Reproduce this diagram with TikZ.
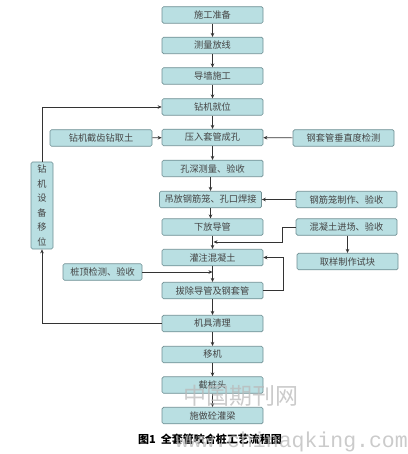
\documentclass[tikz,border=0pt]{standalone}
\usepackage{fontspec}
\newfontfamily\cjk{Noto Sans CJK SC}
\newfontfamily\wmono{Liberation Mono}
\usetikzlibrary{arrows.meta,calc}
\definecolor{boxfill}{HTML}{B9DFE2}
\definecolor{boxline}{HTML}{6F8F93}
\definecolor{txt}{HTML}{444444}
\definecolor{ln}{HTML}{333333}
\tikzset{
  box/.style={draw=boxline, fill=boxfill, line width=0.7pt, rounded corners=1.5pt,
    minimum width=101pt, minimum height=16.5pt, inner sep=0pt, text=txt,
    font=\cjk\fontsize{9.2}{10}\selectfont},
  arr/.style={draw=ln, line width=0.6pt, -{Stealth[length=4pt,width=3.6pt]}},
  wm/.style={text=gray!55, opacity=0.75, inner sep=0pt}
}
\begin{document}
\begin{tikzpicture}[x=1pt,y=-1pt]
\useasboundingbox (0,0) rectangle (407,454);
% main column
\node[box] (n1) at (212.5,15) {施工准备};
\node[box] (n2) at (212.5,45.5) {测量放线};
\node[box] (n3) at (212.5,76) {导墙施工};
\node[box] (n4) at (212.5,107) {钻机就位};
\node[box] (n5) at (212.5,137.5) {压入套管成孔};
\node[box] (n6) at (212.5,168.5) {孔深测量、验收};
\node[box, minimum width=102pt] (n7) at (210.5,199.5) {吊放钢筋笼、孔口焊接};
\node[box] (n8) at (212.5,227) {下放导管};
\node[box] (n9) at (212.5,257.5) {灌注混凝土};
\node[box] (n10) at (212.5,290.5) {拔除导管及钢套管};
\node[box] (n11) at (212.5,323.5) {机具清理};
\node[box] (n12) at (212.5,354.5) {移机};
\node[box] (n13) at (212.5,385) {截桩头};
\node[box] (n14) at (212.5,415.5) {施做砼灌梁};
% side boxes
\node[box, minimum width=102pt] (L1) at (101,138) {钻机截齿钻取土};
\node[box] (R1) at (343.5,138) {钢套管垂直度检测};
\node[box] (R2) at (346.5,199.5) {钢筋笼制作、验收};
\node[box] (R3) at (346.5,227) {混凝土进场、验收};
\node[box] (R4) at (347.5,261.5) {取样制作试块};
\node[box, minimum width=79pt] (P) at (102.5,272) {桩顶检测、验收};
\node[box, minimum width=22pt, minimum height=87pt, align=center,
      font=\cjk\fontsize{9.2}{14.6}\selectfont] (V) at (42,205.5) {钻\\机\\设\\备\\移\\位};
% main arrows
\draw[arr] (n1) -- (n2);
\draw[arr] (n2) -- (n3);
\draw[arr] (n3) -- (n4);
\draw[arr] (n4) -- (n5);
\draw[arr] (n5) -- (n6);
\draw[arr] (n6.south -| n7.north) -- (n7.north);
\draw[arr] (n7.south) -- (n7.south |- n8.north);
\draw[arr] (n8) -- (n9);
\draw[arr] (n9) -- (n10);
\draw[arr] (n10) -- (n11);
\draw[arr] (n11) -- (n12);
\draw[arr] (n12) -- (n13);
\draw[arr] (n13) -- (n14);
% side arrows
\draw[arr] (L1) -- (n5);
\draw[arr] (R1) -- (n5);
\draw[arr] (R2) -- (n7);
\coordinate (m1) at (213.5,242);
\coordinate (m2) at (212.5,272);
\draw[arr] (R3.west) -- ++(-13,0) |- (m1);
\draw[arr] (R3.south -| R4.north) -- (R4.north);
\draw[arr] (n10.east) -- ++(20,0) |- (n9.east);
\draw[arr] (P.east) -- (m2);
\draw[arr] (n11.west) -| (V.south);
\draw[arr] (V.north) |- (n4.west);
% caption
\node[inner sep=0pt, anchor=west, font=\cjk\bfseries\fontsize{11}{12}\selectfont] (cap) at (138,439) {图1\ \ 全套管咬合桩工艺流程图};
% watermarks
\node[wm, font=\cjk\fontsize{23}{24}\selectfont] (w1) at (241,396) {中国期刊网};
\node[wm, anchor=base east, font=\wmono\fontsize{21.5}{22}\selectfont] (w2) at (408,447) {www.chinaqking.com};
\end{tikzpicture}
\end{document}
